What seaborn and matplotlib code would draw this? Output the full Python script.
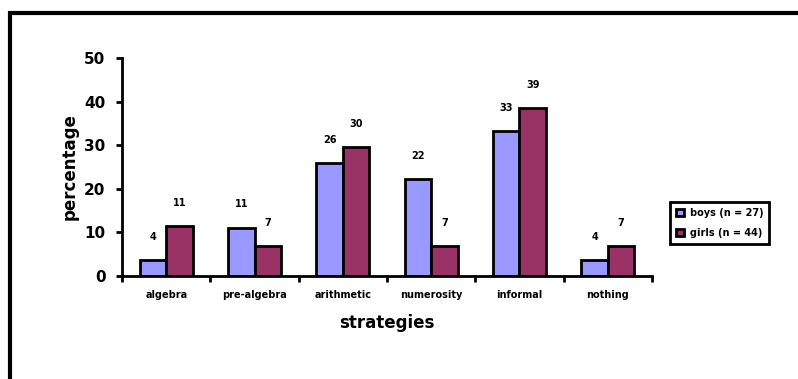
import pandas as pd
import numpy as np
import seaborn as sns
import matplotlib
matplotlib.use('Agg')
import matplotlib.pyplot as plt
from matplotlib.patches import Rectangle
from matplotlib import ticker

strategies = ['algebra', 'pre-algebra', 'arithmetic', 'numerosity', 'informal', 'nothing']
groups = ['boys (n = 27)', 'girls (n = 44)']
boys = [3.7, 11.1, 25.9, 22.2, 33.3, 3.7]
girls = [11.4, 6.8, 29.5, 6.8, 38.6, 6.8]
colors = ['#9999ff', '#993366']

df = pd.DataFrame({
  'strategy': strategies * 2,
  'group': [groups[0]] * len(strategies) + [groups[1]] * len(strategies),
  'percentage': boys + girls,
})

sns.set_style('white')
plt.rcParams['font.family'] = ['DejaVu Sans']
for k in ['text.color', 'axes.labelcolor', 'xtick.color', 'ytick.color']:
  plt.rcParams[k] = 'black'

fig = plt.figure(figsize=(7.98, 3.79), dpi=100)
ax = fig.add_axes([0.153, 0.272, 0.664, 0.575])
sns.barplot(
  data=df, x='strategy', y='percentage',
  hue='group', hue_order=groups, palette=colors,
  width=0.6, edgecolor='black', linewidth=2, saturation=1,
  ax=ax,
)

for cont in ax.containers:
  ax.bar_label(cont, labels=[f'{v:.0f}' for v in cont.datavalues],
               padding=13, fontsize=7, fontweight='bold')

ax.set_ylim(0, 50)
ax.set_xlim(-0.5, 5.5)
ax.yaxis.set_major_locator(ticker.MultipleLocator(10))
ax.xaxis.set_minor_locator(ticker.FixedLocator(np.arange(-0.5, 6, 1)))
ax.tick_params(axis='x', which='major', bottom=False, length=0, labelsize=7, pad=10)
ax.tick_params(axis='x', which='minor', bottom=True, length=4, width=2, direction='out')
ax.tick_params(axis='y', left=True, length=4, width=2, direction='out', labelsize=11, pad=8)
for lab in ax.get_xticklabels() + ax.get_yticklabels():
  lab.set_fontweight('bold')
ax.set_xlabel('strategies', fontsize=12, fontweight='bold', labelpad=10)
ax.set_ylabel('percentage', fontsize=12, fontweight='bold', labelpad=4)
sns.despine(ax=ax)
for s in ['left', 'bottom']:
  ax.spines[s].set_linewidth(2)
  ax.spines[s].set_color('black')

leg = ax.legend(loc='upper left', bbox_to_anchor=(1.025, 0.36), frameon=True,
                fancybox=False, framealpha=1, fontsize=7, handlelength=0.8,
                handleheight=0.8, borderpad=0.6, labelspacing=1.0,
                handletextpad=0.6)
leg.get_frame().set_edgecolor('black')
leg.get_frame().set_linewidth(2)
for t in leg.get_texts():
  t.set_fontweight('bold')

fig.patches.append(Rectangle((10 / 798, -0.05), 1.1, 1 - 13 / 379 + 0.05,
                             transform=fig.transFigure, fill=False,
                             edgecolor='black', linewidth=3))
fig.savefig('out.png', dpi=100)
